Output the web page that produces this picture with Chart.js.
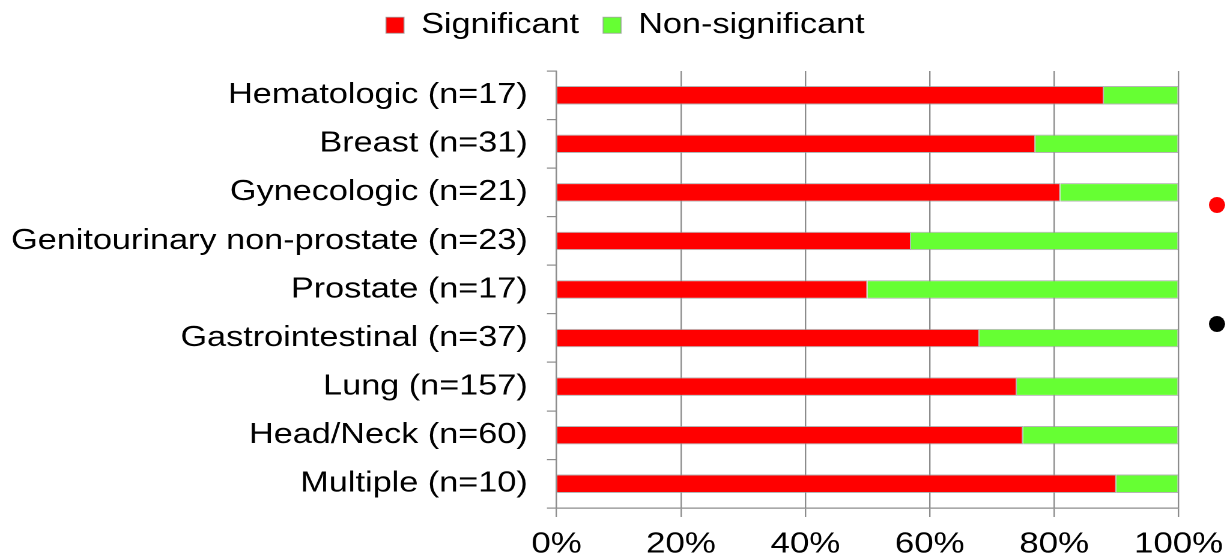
<!DOCTYPE html>
<html>
<head>
<meta charset="utf-8">
<script src="https://cdn.jsdelivr.net/npm/chart.js@4"></script>
<style>
  html, body { margin: 0; padding: 0; background: #fff; overflow: hidden; }
  #wrap {
    position: absolute; left: 0; top: 0;
    width: 1022.5px; height: 558px;
    transform: scaleX(1.2); transform-origin: 0 0;
  }
  .dot { position: absolute; width: 16px; height: 16px; border-radius: 50%; }
</style>
</head>
<body>
<div id="wrap"><canvas id="chart"></canvas></div>
<div class="dot" style="left:1209px; top:197px; background:#ff0000;"></div>
<div class="dot" style="left:1209px; top:316px; background:#000;"></div>
<script>
const categories = [
  "Hematologic (n=17)",
  "Breast (n=31)",
  "Gynecologic (n=21)",
  "Genitourinary non-prostate (n=23)",
  "Prostate (n=17)",
  "Gastrointestinal (n=37)",
  "Lung (n=157)",
  "Head/Neck (n=60)",
  "Multiple (n=10)",
];

const significant = [88, 77, 81, 57, 50, 68, 74, 75, 90];
const nonSignificant = [12, 23, 19, 43, 50, 32, 26, 25, 10];

const tickLabels = ["0%", "20%", "40%", "60%", "80%", "100%"];

/* =========================
   LAYOUT (logical px, canvas is stretched 1.2x horizontally)
========================= */
const SX = 1.2;
const W = 1227 / SX;
const H = 558;
const AREA_LEFT = 556 / SX;
const AREA_RIGHT = 1178 / SX;
const AREA_TOP = 71;
const AREA_BOTTOM = 508;
const LEGEND_SHIFT = 30;
const LEGEND_TOP = -9;

const FAMILY = "'Liberation Sans', Arial, sans-serif";

const canvas = document.getElementById("chart");
canvas.width = W;
canvas.height = H;
canvas.style.width = W + "px";
canvas.style.height = H + "px";

// legend height / position so the plot starts where the reference does
const legendFit = {
  id: "legendFit",
  beforeLayout(chart) {
    const lg = chart.legend;
    if (lg && !lg._patched) {
      const fit = lg.fit;
      lg.fit = function () {
        fit.call(this);
        this.height = AREA_TOP - LEGEND_TOP;
      };
      lg._patched = true;
    }
  },
  afterLayout(chart) {
    const lg = chart.legend;
    if (lg) {
      lg.left += LEGEND_SHIFT;
      lg.right += LEGEND_SHIFT;
    }
  },
};

new Chart(canvas.getContext("2d"), {
  type: "bar",
  data: {
    labels: categories,
    datasets: [
      {
        label: "Significant",
        data: significant,
        backgroundColor: "#ff0000",
        borderColor: "rgba(150,150,150,0.7)",
        borderWidth: 1,
      },
      {
        label: "Non-significant",
        data: nonSignificant,
        backgroundColor: "#66ff33",
        borderColor: "rgba(150,150,150,0.7)",
        borderWidth: 1,
      },
    ],
  },
  options: {
    indexAxis: "y",
    responsive: false,
    animation: false,
    devicePixelRatio: 2,
    barPercentage: 0.38,
    categoryPercentage: 1,
    layout: {
      padding: { left: 0, right: W - AREA_RIGHT, top: LEGEND_TOP, bottom: 0 },
    },
    plugins: {
      tooltip: { enabled: false },
      legend: {
        position: "top",
        labels: {
          font: { family: FAMILY, size: 28.5 },
          color: "#000",
          boxWidth: 15,
          boxHeight: 16,
          padding: 20,
        },
      },
    },
    scales: {
      x: {
        stacked: true,
        min: 0,
        max: 100,
        ticks: {
          stepSize: 20,
          font: { family: FAMILY, size: 29 },
          color: "#000",
          padding: 10,
          callback: (v, i) => tickLabels[i],
        },
        grid: { color: "#8c8c8c", lineWidth: 1.2, tickLength: 9 },
        border: { color: "#8c8c8c", width: 1.2 },
        afterFit(scale) {
          scale.height = H - AREA_BOTTOM;
          scale.paddingLeft = 0;
          scale.paddingRight = 0;
        },
      },
      y: {
        stacked: true,
        ticks: { font: { family: FAMILY, size: 28.5 }, color: "#000", padding: 16 },
        grid: {
          drawOnChartArea: false,
          color: "#8c8c8c",
          lineWidth: 1.2,
          tickLength: 8,
        },
        border: { color: "#8c8c8c", width: 1.2 },
        afterFit(scale) {
          scale.width = AREA_LEFT;
        },
      },
    },
  },
  plugins: [legendFit],
});
</script>
</body>
</html>
